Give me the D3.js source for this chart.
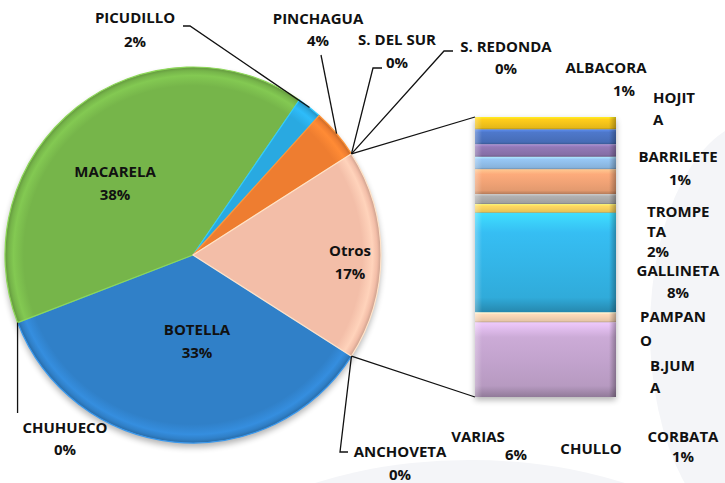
<!DOCTYPE html>
<html>
<head>
<meta charset="utf-8">
<script src="https://cdn.jsdelivr.net/npm/d3@7"></script>
<style>
  body { margin: 0; background: #fff; }
  svg { display: block; }
  text { font-family: "Open Sans", Lato, sans-serif; font-weight: 700; fill: #111; }
</style>
</head>
<body>
<svg id="chart" width="725" height="483"></svg>
<script>
// Main pie: species, clockwise starting after the "Otros" wedge
const pieNames  = ["ANCHOVETA", "BOTELLA", "CHUHUECO", "MACARELA", "PICUDILLO", "PINCHAGUA", "S. DEL SUR", "S. REDONDA", "Otros"];
const pieValues = [0, 33, 0, 38, 2, 4, 0, 0, 17];
const pieColors = ["#9bbb59", "#3080c8", "#8064a2", "#76b54a", "#29a9e1", "#ee7d30", "#a5a5a5", "#4bacc6", "#f3bea8"];

// Species grouped into "Otros", stacked from the top of the bar down
const barNames  = ["ALBACORA", "HOJITA", "BARRILETE", "CORBATA", "TROMPETA", "PAMPANO", "CHULLO", "GALLINETA", "B.JUMA", "VARIAS"];
const barValues = [1, 1.2, 1, 1, 2, 0.8, 0.7, 8, 0.8, 6];
const barColors = ["#f2c21a", "#4a72c0", "#8c74ae", "#8fbde8", "#f0a275", "#a9a9a9", "#f5cf5c", "#33b4e6", "#f3d0b0", "#c1a2cc"];

const svg = d3.select("#chart");
const defs = svg.append("defs");

// blur used for the soft shadows
defs.append("filter").attr("id", "blur")
  .attr("x", "-20%").attr("y", "-20%").attr("width", "140%").attr("height", "140%")
  .append("feGaussianBlur").attr("stdDeviation", 3);

// faint background decoration
svg.append("ellipse").attr("cx", 470).attr("cy", 620).attr("rx", 300).attr("ry", 160).attr("fill", "#f4f5f8");
svg.append("ellipse").attr("cx", 760).attr("cy", 330).attr("rx", 110).attr("ry", 210).attr("fill", "#f4f5f8");

// ---------- pie ----------
const cx = 193, cy = 255, R = 188;
const total = d3.sum(pieValues);
const otrosIdx = pieNames.indexOf("Otros");
const otrosSpan = 2 * Math.PI * pieValues[otrosIdx] / total;
const a0 = Math.PI / 2 + otrosSpan / 2;   // keeps "Otros" centred at 3 o'clock
const pie = d3.pie().sort(null).value(d => d).startAngle(a0).endAngle(a0 + 2 * Math.PI);
const arcs = pie(pieValues);
const arc = d3.arc().innerRadius(0).outerRadius(R);
const rim = a => [cx + R * Math.sin(a), cy - R * Math.cos(a)];

// bevel-like shading: light band just inside the rim, dark edge
// (gradient coordinates are in the translated pie group, so centred at 0,0)
pieColors.forEach((c, i) => {
  const g = defs.append("radialGradient").attr("id", "pg" + i)
    .attr("gradientUnits", "userSpaceOnUse").attr("cx", 0).attr("cy", 0).attr("r", R);
  const base = d3.color(c);
  g.append("stop").attr("offset", 0).attr("stop-color", base);
  g.append("stop").attr("offset", 0.9).attr("stop-color", base);
  g.append("stop").attr("offset", 0.955).attr("stop-color", base.brighter(0.3));
  g.append("stop").attr("offset", 0.98).attr("stop-color", base);
  g.append("stop").attr("offset", 1).attr("stop-color", base.darker(0.5));
});

svg.append("circle").attr("cx", cx).attr("cy", cy + 4).attr("r", R)
  .attr("fill", "#000").attr("opacity", 0.3).attr("filter", "url(#blur)");

const pieG = svg.append("g").attr("transform", `translate(${cx},${cy})`);
pieG.selectAll("path").data(arcs.filter(d => d.value > 0)).join("path")
  .attr("d", arc)
  .attr("fill", d => `url(#pg${d.index})`)
  .attr("stroke", d => d3.color(pieColors[d.index]).brighter(0.5))
  .attr("stroke-width", 1.2)
  .attr("stroke-linejoin", "round");

// ---------- bar of "Otros" ----------
const barX = 475, barW = 141, barTop = 117, barBottom = 397;
const y = d3.scaleLinear().domain([0, d3.sum(barValues)]).range([barTop, barBottom]);
const cum = [0, ...d3.cumsum(barValues)];

barColors.forEach((c, i) => {
  const base = d3.color(c);
  const g = defs.append("linearGradient").attr("id", "bg" + i).attr("x1", 0).attr("y1", 0).attr("x2", 0).attr("y2", 1);
  g.append("stop").attr("offset", 0).attr("stop-color", base.brighter(0.6));
  g.append("stop").attr("offset", 0.2).attr("stop-color", base.brighter(0.15));
  g.append("stop").attr("offset", 0.55).attr("stop-color", base);
  g.append("stop").attr("offset", 0.85).attr("stop-color", base.darker(0.15));
  g.append("stop").attr("offset", 1).attr("stop-color", base.darker(0.8));
});
const side = defs.append("linearGradient").attr("id", "side").attr("x1", 0).attr("y1", 0).attr("x2", 1).attr("y2", 0);
side.append("stop").attr("offset", 0).attr("stop-color", "#fff").attr("stop-opacity", 0.3);
side.append("stop").attr("offset", 0.05).attr("stop-color", "#fff").attr("stop-opacity", 0);
side.append("stop").attr("offset", 0.95).attr("stop-color", "#000").attr("stop-opacity", 0);
side.append("stop").attr("offset", 1).attr("stop-color", "#000").attr("stop-opacity", 0.3);

svg.append("rect").attr("x", barX).attr("y", barTop + 3).attr("width", barW).attr("height", barBottom - barTop)
  .attr("fill", "#000").attr("opacity", 0.3).attr("filter", "url(#blur)");

const segs = svg.append("g").selectAll("g").data(barValues).join("g");
segs.append("rect")
  .attr("x", barX).attr("width", barW)
  .attr("y", (d, i) => y(cum[i])).attr("height", (d, i) => y(cum[i + 1]) - y(cum[i]))
  .attr("fill", (d, i) => `url(#bg${i})`);
segs.append("rect")
  .attr("x", barX).attr("width", barW)
  .attr("y", (d, i) => y(cum[i])).attr("height", (d, i) => y(cum[i + 1]) - y(cum[i]))
  .attr("fill", "url(#side)");

// connector lines from the "Otros" wedge to the bar
const otrosArc = arcs[otrosIdx];
const cTop = rim(otrosArc.startAngle), cBot = rim(otrosArc.endAngle);
const line = d3.line();
svg.append("path").attr("d", line([cTop, [barX, y(0)]])).attr("stroke", "#111").attr("stroke-width", 1.3).attr("fill", "none");
svg.append("path").attr("d", line([cBot, [barX, y(d3.sum(barValues))]])).attr("stroke", "#111").attr("stroke-width", 1.3).attr("fill", "none");

// ---------- labels ----------
const pct = v => Math.round(v) + "%";
const FS = 15;

function drawLines(lines, x, yy, anchor, lh, dxs) {
  const t = svg.append("text").attr("font-size", FS).attr("text-anchor", anchor);
  lines.forEach((s, k) => {
    t.append("tspan").attr("x", x + ((dxs && dxs[k]) || 0)).attr("y", yy + k * lh).text(s);
  });
}

// labels placed inside their wedges (offsets from pie centre)
const insideLayout = {
  "MACARELA": [-78, -78],
  "BOTELLA": [4, 80],
  "Otros": [157, 1]
};
arcs.forEach(d => {
  const name = pieNames[d.index];
  const o = insideLayout[name];
  if (!o) return;
  drawLines([name, pct(d.value)], cx + o[0], cy + o[1], "middle", 22.5);
});

// labels outside the pie with leader lines to the rim
const outsideLayout = {
  "PICUDILLO":  { x: 135, y: 23, lh: 24, lead: [[183, 26], [190, 26]], at: "mid" },
  "PINCHAGUA":  { x: 318, y: 24, lh: 22, lead: [[321, 55]], at: "mid" },
  "S. DEL SUR": { x: 397, y: 45, lh: 23, lead: [[382, 68], [373, 68]], at: "start" },
  "S. REDONDA": { x: 506, y: 52, lh: 22, lead: [[453, 51], [444, 51]], at: "start" },
  "CHUHUECO":   { x: 65, y: 433, lh: 22, lead: "vertical", leadY: 413, at: "start" },
  "ANCHOVETA":  { x: 400, y: 457, lh: 23, lead: [[348, 452], [340, 452]], at: "start" }
};
arcs.forEach(d => {
  const name = pieNames[d.index];
  const L = outsideLayout[name];
  if (!L) return;
  drawLines([name, pct(d.value)], L.x, L.y, "middle", L.lh);
  const ang = L.at === "mid" ? (d.startAngle + d.endAngle) / 2 : d.startAngle;
  const p = rim(ang);
  const pts = L.lead === "vertical" ? [[p[0], L.leadY], p] : [...L.lead, p];
  svg.append("path").attr("d", line(pts)).attr("stroke", "#111").attr("stroke-width", 1.3).attr("fill", "none");
});

// labels for the stacked bar items
const barLayout = {
  "ALBACORA":  { x: 606, y: 73,  anchor: "middle", lh: 23, dx: [0, 18] },
  "HOJITA":    { x: 653, y: 103, anchor: "start",  lh: 22, wrap: 5, lines: 2 },
  "BARRILETE": { x: 678, y: 162, anchor: "middle", lh: 23, dx: [0, 2] },
  "TROMPETA":  { x: 647, y: 217, anchor: "start",  lh: 20, wrap: 6 },
  "GALLINETA": { x: 678, y: 276, anchor: "middle", lh: 22 },
  "PAMPANO":   { x: 640, y: 322, anchor: "start",  lh: 24, wrap: 6, lines: 2 },
  "B.JUMA":    { x: 650, y: 371, anchor: "start",  lh: 22, wrap: 5, lines: 2 },
  "VARIAS":    { x: 478, y: 442, anchor: "middle", lh: 18, dx: [0, 38] },
  "CHULLO":    { x: 591, y: 454, anchor: "middle", lh: 18, lines: 1 },
  "CORBATA":   { x: 683, y: 442, anchor: "middle", lh: 20 }
};
barNames.forEach((name, i) => {
  const L = barLayout[name];
  let parts = [];
  if (L.wrap) {
    for (let k = 0; k < name.length; k += L.wrap) parts.push(name.slice(k, k + L.wrap));
  } else parts.push(name);
  parts.push(pct(barValues[i]));
  if (L.lines) parts = parts.slice(0, L.lines);
  drawLines(parts, L.x, L.y, L.anchor, L.lh, L.dx);
});
</script>
</body>
</html>
